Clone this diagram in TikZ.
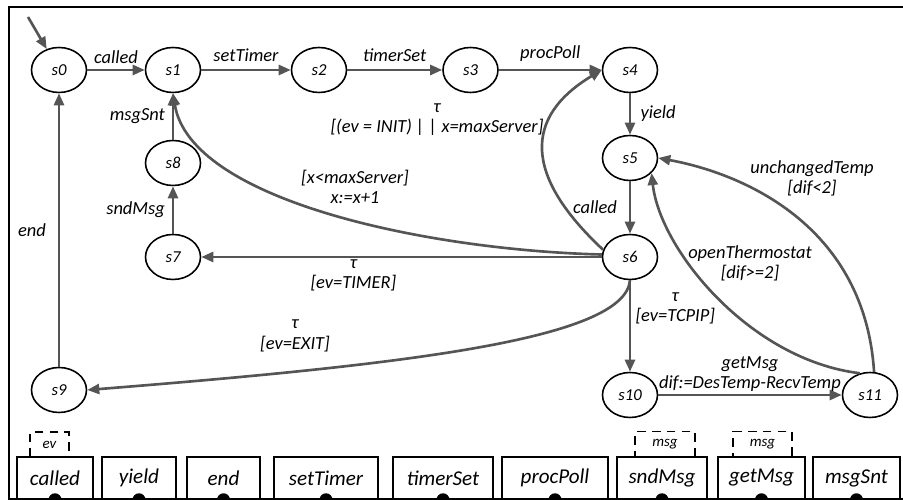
\documentclass[tikz,border=0pt]{standalone}
\usepackage{fontspec}
\setmainfont{Carlito}
\usetikzlibrary{shapes.geometric,arrows.meta}
\definecolor{arrowgray}{RGB}{85,85,85}
\tikzset{
  state/.style={ellipse, draw, line width=0.9pt, minimum width=1.1cm, minimum height=0.9cm, inner sep=0pt, font=\fontsize{9.5}{10}\selectfont\itshape},
  trans/.style={draw=arrowgray, line width=1.5pt, -{Triangle[length=2.4mm,width=2mm]}},
  lab/.style={font=\fontsize{10.5}{11.5}\selectfont\itshape, align=center, inner sep=1pt},
  evbox/.style={draw, fill=white, line width=0.9pt, minimum height=0.84cm, inner sep=0pt, font=\fontsize{12}{14}\selectfont\itshape},
  parbox/.style={draw, line width=1.1pt, dash pattern=on 5pt off 3.5pt, minimum height=0.5cm, inner sep=0pt, font=\fontsize{8.5}{9}\selectfont\itshape}
}
\begin{document}
\begin{tikzpicture}
\useasboundingbox (0,0) rectangle (18.06,10);
\draw[line width=1.2pt] (18.06,9.86) -- (0.18,9.86) -- (0.18,0.02) -- (18.06,0.02);
% states
\node[state] (s0) at (1.18,8.6) {s0};
\node[state] (s1) at (3.46,8.6) {s1};
\node[state] (s2) at (6.38,8.6) {s2};
\node[state] (s3) at (9.41,8.6) {s3};
\node[state] (s4) at (12.6,8.6) {s4};
\node[state] (s5) at (12.6,6.84) {s5};
\node[state] (s6) at (12.6,4.86) {s6};
\node[state] (s7) at (3.46,4.86) {s7};
\node[state] (s8) at (3.46,6.74) {s8};
\node[state] (s9) at (1.18,2.2) {s9};
\node[state] (s10) at (12.6,2.1) {s10};
\node[state] (s11) at (17.4,2.1) {s11};
\coordinate (init) at (0.56,9.66);
% transitions
\draw[trans] (init) -- (s0);
\draw[trans] (s0) -- (s1) node[midway,above=2pt,lab] (lcalled) {called};
\draw[trans] (s1) -- (s2) node[midway,above=3pt,lab] (lsettimer) {setTimer};
\draw[trans] (s2) -- (s3) node[midway,above=3pt,lab] (ltimerset) {timerSet};
\draw[trans] (s3) -- (s4) node[midway,above=3pt,lab] (lprocpoll) {procPoll};
\draw[trans] (s4) -- (s5) node[midway,right=0.15cm,lab] (lyield) {yield};
\draw[trans] (s5) -- (s6) node[midway,left=0.2cm,lab] (lcalledb) {called};
\draw[trans] (s6) -- (s7) node[pos=0.62,below=0pt,lab] (ltimer) {τ\\{}[ev=TIMER]};
\draw[trans] (s7) -- (s8) node[midway,left=0.1cm,lab] (lsndmsg) {sndMsg};
\draw[trans] (s8) -- (s1) node[midway,left=0.1cm,lab] (lmsgsnt) {msgSnt};
\draw[trans] (s9) -- (s0) node[midway,left=0.2cm,lab] (lend) {end};
\draw[trans] (s6) -- (s10) node[pos=0.31,right=0.05cm,lab] (ltcpip) {τ\\{}[ev=TCPIP]};
\draw[trans] (s10) -- (s11) node[midway,above=0pt,lab] (lgetmsg) {getMsg\\dif:=DesTemp-RecvTemp};
\draw[trans] (s6.165) .. controls (10.47,6.49) and (10.47,7.66) .. (s4.west);
\draw[trans] (s6.175) .. controls (8.5,5.0) and (3.8,6.0) .. (s1.south);
\draw[trans] (s6.south) .. controls (12.5,3.2) and (8,2.7) .. (s9.east);
\draw[trans] (s11.80) .. controls (17.3,5.4) and (15,6.5) .. (s5.east);
\draw[trans] (s11.115) .. controls (15.0,2.8) and (13.2,5.0) .. (s5.-35);
\node[lab] (linit) at (8.74,7.6) {τ\\{}[(ev = INIT) | | x=maxServer]};
\node[lab] (lmax) at (7.1,6.26) {[x<maxServer]\\x:=x+1};
\node[lab] (lexit) at (5.9,3.28) {τ\\{}[ev=EXIT]};
\node[lab] (lopen) at (15.0,4.74) {openThermostat\\{}[dif>=2]};
\node[lab] (lunch) at (16.24,6.44) {unchangedTemp\\{}[dif<2]};
% events
\node[parbox, minimum width=0.78cm] (pev) at (0.99,1.11) {ev};
\node[parbox, minimum width=1.2cm] (pmsga) at (13.3,1.12) {msg};
\node[parbox, minimum width=1.18cm] (pmsgb) at (15.25,1.12) {msg};
\node[evbox, minimum width=1.52cm] (bcalled) at (1.1,0.44) {called};
\node[evbox, minimum width=1.48cm] (byield) at (2.78,0.44) {yield};
\node[evbox, minimum width=1.46cm] (bend) at (4.47,0.44) {end};
\node[evbox, minimum width=2.08cm] (bsettimer) at (6.52,0.44) {setTimer};
\node[evbox, minimum width=2.0cm] (btimerset) at (8.86,0.44) {timerSet};
\node[evbox, minimum width=2.12cm] (bprocpoll) at (11.1,0.44) {procPoll};
\node[evbox, minimum width=1.8cm] (bsndmsg) at (13.24,0.44) {sndMsg};
\node[evbox, minimum width=1.74cm] (bgetmsg) at (15.23,0.44) {getMsg};
\node[evbox, minimum width=1.74cm] (bmsgsnt) at (17.13,0.44) {msgSnt};
\fill (bcalled.south) circle (0.13);
\fill (byield.south) circle (0.13);
\fill (bend.south) circle (0.13);
\fill (bsettimer.south) circle (0.13);
\fill (btimerset.south) circle (0.13);
\fill (bprocpoll.south) circle (0.13);
\fill (bsndmsg.south) circle (0.13);
\fill (bgetmsg.south) circle (0.13);
\fill (bmsgsnt.south) circle (0.13);
\end{tikzpicture}
\end{document}
